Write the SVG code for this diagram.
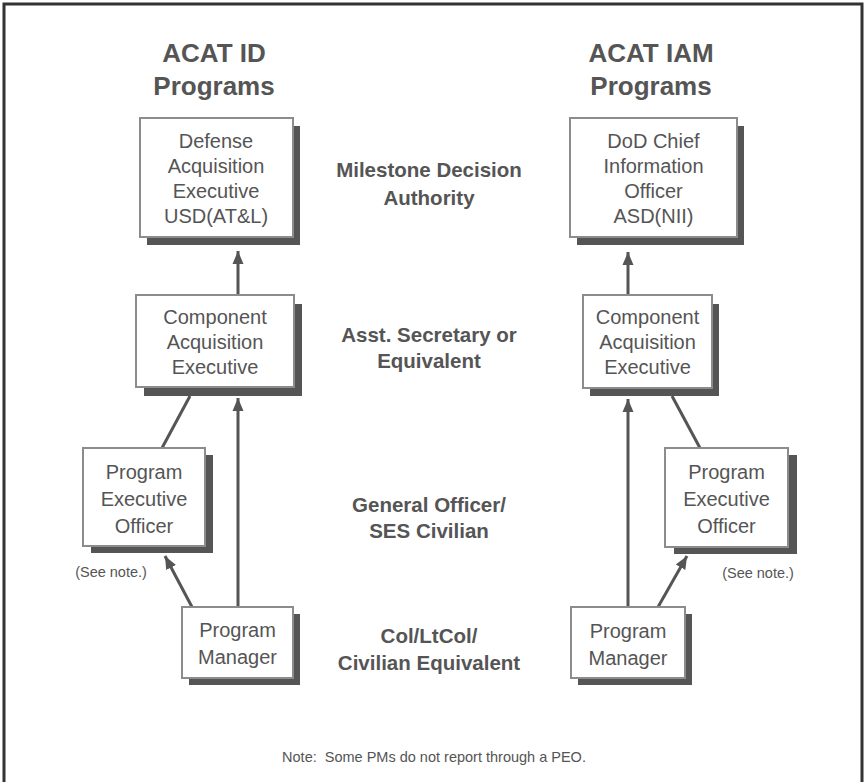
<svg xmlns="http://www.w3.org/2000/svg" width="865" height="782" viewBox="0 0 865 782">
<defs>
<style>
.box{fill:#fff;stroke:#8c8c8c;stroke-width:2}
.sh{fill:#555}
.bt{font-family:"Liberation Sans",Arial,sans-serif;font-size:20px;fill:#555;text-anchor:middle}
.lv{font-family:"Liberation Sans",Arial,sans-serif;font-size:20.5px;font-weight:bold;fill:#555;text-anchor:middle}
.tt{font-family:"Liberation Sans",Arial,sans-serif;font-size:26px;font-weight:bold;fill:#555;text-anchor:middle}
.sm{font-family:"Liberation Sans",Arial,sans-serif;font-size:14.5px;fill:#555;text-anchor:middle}
.cn{stroke:#555;stroke-width:3;fill:none}
.ar{marker-end:url(#ah)}
</style>
<marker id="ah" markerUnits="userSpaceOnUse" markerWidth="14" markerHeight="14" viewBox="0 0 14 14" refX="13" refY="7" orient="auto">
<path d="M0,1.5 L13,7 L0,12.5 Z" fill="#555"/>
</marker>
</defs>
<rect width="865" height="782" fill="#fff"/>
<path d="M4,782 V4 H862 V782" fill="none" stroke="#333" stroke-width="3"/>

<g id="titles">
<text class="tt" x="214" y="62">ACAT ID</text>
<text class="tt" x="214" y="95">Programs</text>
<text class="tt" x="651" y="62">ACAT IAM</text>
<text class="tt" x="651" y="95">Programs</text>
</g>

<g id="levels">
<text class="lv" x="429" y="177">Milestone Decision</text>
<text class="lv" x="429" y="205">Authority</text>
<text class="lv" x="429" y="342">Asst. Secretary or</text>
<text class="lv" x="429" y="368">Equivalent</text>
<text class="lv" x="429" y="512">General Officer/</text>
<text class="lv" x="429" y="538">SES Civilian</text>
<text class="lv" x="429" y="643">Col/LtCol/</text>
<text class="lv" x="429" y="670">Civilian Equivalent</text>
</g>

<g id="connectors">
<line class="cn ar" x1="238" y1="295" x2="238" y2="251"/>
<line class="cn ar" x1="238" y1="607" x2="238" y2="398"/>
<line class="cn ar" x1="192" y1="607" x2="165" y2="556"/>
<line class="cn" x1="162" y1="448" x2="190" y2="396"/>
<line class="cn ar" x1="628" y1="295" x2="628" y2="252"/>
<line class="cn ar" x1="628" y1="607" x2="628" y2="399"/>
<line class="cn ar" x1="658" y1="607" x2="687" y2="556"/>
<line class="cn" x1="700" y1="448" x2="672" y2="396"/>
</g>

<g id="dae">
<rect class="sh" x="147" y="126" width="153" height="119"/>
<rect class="box" x="140" y="118" width="153" height="119"/>
<text class="bt" x="216" y="148">Defense</text>
<text class="bt" x="216" y="173">Acquisition</text>
<text class="bt" x="216" y="198">Executive</text>
<text class="bt" x="216" y="223">USD(AT&amp;L)</text>
</g>

<g id="cae-left">
<rect class="sh" x="144" y="304" width="158" height="92"/>
<rect class="box" x="136" y="295" width="158" height="92"/>
<text class="bt" x="215" y="324">Component</text>
<text class="bt" x="215" y="349">Acquisition</text>
<text class="bt" x="215" y="374">Executive</text>
</g>

<g id="peo-left">
<rect class="sh" x="91" y="455" width="122" height="98"/>
<rect class="box" x="83" y="448" width="122" height="98"/>
<text class="bt" x="144" y="479">Program</text>
<text class="bt" x="144" y="506">Executive</text>
<text class="bt" x="144" y="533">Officer</text>
</g>
<text id="note-left" class="sm" x="111" y="577">(See note.)</text>

<g id="pm-left">
<rect class="sh" x="189" y="614" width="111" height="71"/>
<rect class="box" x="182" y="607" width="111" height="71"/>
<text class="bt" x="237.5" y="637">Program</text>
<text class="bt" x="237.5" y="664">Manager</text>
</g>

<g id="cio">
<rect class="sh" x="577" y="126" width="167" height="119"/>
<rect class="box" x="570" y="118" width="167" height="119"/>
<text class="bt" x="653.5" y="148">DoD Chief</text>
<text class="bt" x="653.5" y="173">Information</text>
<text class="bt" x="653.5" y="198">Officer</text>
<text class="bt" x="653.5" y="223">ASD(NII)</text>
</g>

<g id="cae-right">
<rect class="sh" x="590" y="304" width="129" height="92"/>
<rect class="box" x="583" y="295" width="129" height="93"/>
<text class="bt" x="647.5" y="324">Component</text>
<text class="bt" x="647.5" y="349">Acquisition</text>
<text class="bt" x="647.5" y="374">Executive</text>
</g>

<g id="peo-right">
<rect class="sh" x="674" y="455" width="123" height="99"/>
<rect class="box" x="665" y="448" width="123" height="99"/>
<text class="bt" x="726.5" y="479">Program</text>
<text class="bt" x="726.5" y="506">Executive</text>
<text class="bt" x="726.5" y="533">Officer</text>
</g>
<text id="note-right" class="sm" x="758" y="578">(See note.)</text>

<g id="pm-right">
<rect class="sh" x="578" y="614" width="114" height="71"/>
<rect class="box" x="571" y="607" width="114" height="71"/>
<text class="bt" x="628" y="638">Program</text>
<text class="bt" x="628" y="665">Manager</text>
</g>

<text id="footnote" class="sm" x="434" y="762" xml:space="preserve">Note:  Some PMs do not report through a PEO.</text>
</svg>
